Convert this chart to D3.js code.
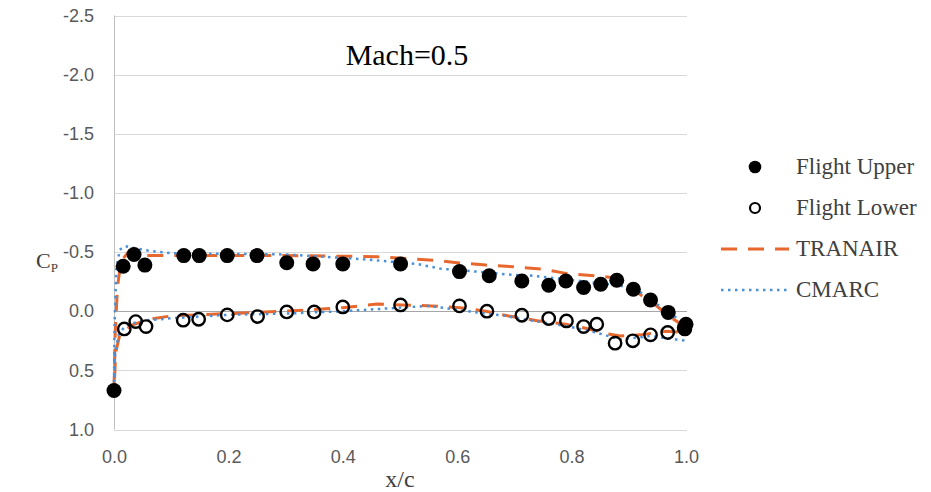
<!DOCTYPE html>
<html>
<head>
<meta charset="utf-8">
<script src="https://cdn.jsdelivr.net/npm/d3@7"></script>
<style>
  body { margin: 0; background: #fff; }
  svg { display: block; }
</style>
</head>
<body>
<script>
// flight data (filled = upper surface, open = lower surface)
const upperX = [0.0, 0.016, 0.035, 0.054, 0.122, 0.149, 0.198, 0.25, 0.302, 0.348, 0.40, 0.501, 0.604, 0.656, 0.713, 0.760, 0.79, 0.821, 0.851, 0.879, 0.908, 0.938, 0.969, 0.997, 1.0];
const upperCp = [0.67, -0.38, -0.48, -0.39, -0.47, -0.47, -0.47, -0.47, -0.41, -0.40, -0.40, -0.40, -0.335, -0.30, -0.256, -0.22, -0.256, -0.20, -0.228, -0.262, -0.186, -0.095, 0.01, 0.14, 0.11];

const lowerX = [0.018, 0.038, 0.056, 0.121, 0.148, 0.198, 0.251, 0.302, 0.35, 0.40, 0.501, 0.604, 0.652, 0.713, 0.760, 0.791, 0.821, 0.844, 0.876, 0.907, 0.938, 0.968, 0.998];
const lowerCp = [0.15, 0.088, 0.13, 0.076, 0.068, 0.031, 0.045, 0.006, 0.006, -0.036, -0.053, -0.045, 0.0, 0.034, 0.062, 0.082, 0.13, 0.11, 0.27, 0.25, 0.20, 0.18, 0.15];

// TRANAIR prediction
const tranairUpperX = [0, 0.002, 0.006, 0.012, 0.025, 0.05, 0.1, 0.2, 0.3, 0.4, 0.46, 0.56, 0.6, 0.65, 0.7, 0.75, 0.79, 0.84, 0.88, 0.9, 0.92, 0.95, 0.97, 0.985, 1.0];
const tranairUpperCp = [0.67, 0.2, -0.2, -0.42, -0.5, -0.47, -0.47, -0.47, -0.47, -0.465, -0.46, -0.43, -0.41, -0.39, -0.375, -0.355, -0.32, -0.30, -0.28, -0.22, -0.14, -0.04, 0.04, 0.09, 0.14];
const tranairLowerX = [0, 0.003, 0.01, 0.03, 0.06, 0.1, 0.2, 0.3, 0.4, 0.46, 0.555, 0.605, 0.65, 0.69, 0.74, 0.79, 0.83, 0.86, 0.885, 0.92, 0.965, 1.0];
const tranairLowerCp = [0.67, 0.35, 0.2, 0.12, 0.07, 0.04, 0.02, 0.0, -0.03, -0.06, -0.045, -0.03, 0.0, 0.04, 0.08, 0.11, 0.15, 0.19, 0.21, 0.2, 0.17, 0.18];

// CMARC prediction
const cmarcUpperX = [0, 0.001, 0.004, 0.01, 0.019, 0.04, 0.063, 0.1, 0.2, 0.3, 0.435, 0.529, 0.57, 0.634, 0.69, 0.733, 0.815, 0.861, 0.907, 0.93, 0.96, 0.983, 1.0];
const cmarcUpperCp = [0.6, 0.1, -0.35, -0.52, -0.55, -0.53, -0.51, -0.49, -0.485, -0.48, -0.44, -0.40, -0.36, -0.335, -0.31, -0.30, -0.256, -0.23, -0.2, -0.13, -0.02, 0.054, 0.14];
const cmarcLowerX = [0, 0.002, 0.008, 0.02, 0.05, 0.1, 0.2, 0.3, 0.4, 0.55, 0.634, 0.686, 0.698, 0.79, 0.843, 0.885, 0.937, 1.0];
const cmarcLowerCp = [0.6, 0.35, 0.2, 0.12, 0.08, 0.06, 0.03, 0.02, 0.0, -0.045, 0.01, 0.04, 0.054, 0.125, 0.18, 0.24, 0.21, 0.25];

const xTicks = [0, 0.2, 0.4, 0.6, 0.8, 1.0];
const yTicks = [-2.5, -2.0, -1.5, -1.0, -0.5, 0.0, 0.5, 1.0];
const legendNames = ["Flight Upper", "Flight Lower", "TRANAIR", "CMARC"];

const W = 931, H = 492;
const ORANGE = "#e8672c", BLUE = "#4a90d9";
const zip = (xs, ys) => xs.map((x, i) => ({ x: x, y: ys[i] }));
const fmt = d => d.toFixed(1); // plain hyphen minus, as in the original

const svg = d3.select("body").append("svg").attr("width", W).attr("height", H);

const x = d3.scaleLinear().domain([0, 1]).range([114, 686]);
const y = d3.scaleLinear().domain([-2.5, 1.0]).range([15.5, 429.5]);

// gridlines
svg.append("g")
  .selectAll("line")
  .data(yTicks)
  .join("line")
  .attr("x1", x(0)).attr("x2", x(1) + 1)
  .attr("y1", d => Math.round(y(d)) + 0.5).attr("y2", d => Math.round(y(d)) + 0.5)
  .attr("stroke", d => d === 0 ? "#a6a6a6" : "#d9d9d9")
  .attr("stroke-width", 1);

svg.append("line")
  .attr("x1", x(0) + 0.5).attr("x2", x(0) + 0.5)
  .attr("y1", y(-2.5)).attr("y2", y(1.0))
  .attr("stroke", "#bfbfbf");

// tick labels
const yAxis = svg.append("g")
  .attr("transform", `translate(${x(0) - 20},0)`)
  .call(d3.axisLeft(y).tickValues(yTicks).tickSize(0).tickFormat(fmt));
yAxis.select(".domain").remove();
yAxis.selectAll("text")
  .attr("font-family", "'Liberation Sans', Arial, sans-serif")
  .attr("font-size", 18).attr("fill", "#595959").attr("x", 0);

const xAxis = svg.append("g")
  .attr("transform", `translate(0,${y(1.0) + 18})`)
  .call(d3.axisBottom(x).tickValues(xTicks).tickSize(0).tickFormat(fmt));
xAxis.select(".domain").remove();
xAxis.selectAll("text")
  .attr("font-family", "'Liberation Sans', Arial, sans-serif")
  .attr("font-size", 18).attr("fill", "#595959");

// axis titles
svg.append("text")
  .attr("x", 400).attr("y", 487).attr("text-anchor", "middle")
  .attr("font-family", "'Liberation Serif', 'Times New Roman', serif")
  .attr("font-size", 24).attr("fill", "#404040").text("x/c");

const cp = svg.append("text")
  .attr("x", 36).attr("y", 268)
  .attr("font-family", "'Liberation Serif', 'Times New Roman', serif")
  .attr("font-size", 22).attr("fill", "#404040");
cp.append("tspan").text("C");
cp.append("tspan").attr("font-size", 13).attr("dy", 4).text("P");

svg.append("text")
  .attr("x", 407).attr("y", 65).attr("text-anchor", "middle")
  .attr("font-family", "'Liberation Serif', 'Times New Roman', serif")
  .attr("font-size", 30).attr("fill", "#000").text("Mach=0.5");

// prediction lines: one path from upper TE round the leading edge to lower TE
const line = d3.line().x(d => x(d.x)).y(d => y(d.y));
const loop = (ux, uy, lx, ly) => zip(ux, uy).reverse().concat(zip(lx, ly).slice(1));

svg.append("path")
  .datum(loop(tranairUpperX, tranairUpperCp, tranairLowerX, tranairLowerCp))
  .attr("d", line).attr("fill", "none")
  .attr("stroke", ORANGE).attr("stroke-width", 3).attr("stroke-dasharray", "16,11");

svg.append("path")
  .datum(loop(cmarcUpperX, cmarcUpperCp, cmarcLowerX, cmarcLowerCp))
  .attr("d", line).attr("fill", "none")
  .attr("stroke", BLUE).attr("stroke-width", 2.5).attr("stroke-dasharray", "2.5,4.5");

// flight markers
svg.append("g").selectAll("circle")
  .data(zip(lowerX, lowerCp))
  .join("circle")
  .attr("cx", d => x(d.x)).attr("cy", d => y(d.y)).attr("r", 6.2)
  .attr("fill", "none").attr("stroke", "#000").attr("stroke-width", 2.4);

svg.append("g").selectAll("circle")
  .data(zip(upperX, upperCp))
  .join("circle")
  .attr("cx", d => x(d.x)).attr("cy", d => y(d.y)).attr("r", 7.5)
  .attr("fill", "#000");

// legend
const lg = svg.append("g");
const rowY = [167, 208, 249, 290];
lg.selectAll("text")
  .data(legendNames)
  .join("text")
  .attr("x", 796).attr("y", (d, i) => rowY[i] + 7)
  .attr("font-family", "'Liberation Serif', 'Times New Roman', serif")
  .attr("font-size", 23).attr("fill", "#404040")
  .text(d => d);
lg.append("circle").attr("cx", 755).attr("cy", rowY[0]).attr("r", 6.3).attr("fill", "#000");
lg.append("circle").attr("cx", 755).attr("cy", rowY[1]).attr("r", 5).attr("fill", "none")
  .attr("stroke", "#000").attr("stroke-width", 2.2);
lg.append("line").attr("x1", 721).attr("x2", 789).attr("y1", rowY[2]).attr("y2", rowY[2])
  .attr("stroke", ORANGE).attr("stroke-width", 3).attr("stroke-dasharray", "16,11");
lg.append("line").attr("x1", 721).attr("x2", 789).attr("y1", rowY[3]).attr("y2", rowY[3])
  .attr("stroke", BLUE).attr("stroke-width", 2.5).attr("stroke-dasharray", "2.5,4.5");
</script>
</body>
</html>
